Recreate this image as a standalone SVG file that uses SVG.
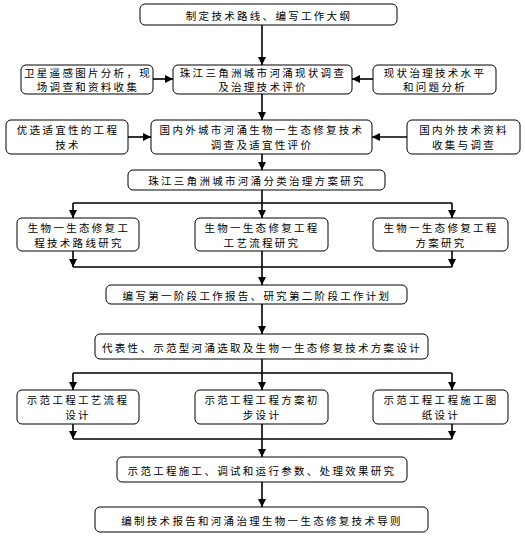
<svg xmlns="http://www.w3.org/2000/svg" width="525" height="536" viewBox="0 0 525 536">
<defs>
<marker id="ah" viewBox="0 0 8 8" refX="8" refY="4" markerWidth="8" markerHeight="8" markerUnits="userSpaceOnUse" orient="auto">
<path d="M0,0 L8,4 L0,8 z" fill="#000"/>
</marker>
<style>
.b{fill:#fff;stroke:#000;stroke-width:1}
.t{font-family:"Noto Sans CJK SC","Noto Sans CJK JP",sans-serif;font-size:10.5px;letter-spacing:2.3px;text-anchor:middle;dominant-baseline:central;fill:#000}
.c{fill:none;stroke:#000;stroke-width:1.6}
.a{marker-end:url(#ah)}
</style>
</defs>
<rect width="525" height="536" fill="#fff"/>
<g id="connectors">
<line class="c a" x1="262" y1="25" x2="262" y2="65"/>
<line class="c a" x1="153" y1="79" x2="173" y2="79"/>
<line class="c a" x1="373" y1="79" x2="352" y2="79"/>
<line class="c a" x1="262" y1="94" x2="262" y2="120"/>
<line class="c a" x1="128" y1="137" x2="151" y2="137"/>
<line class="c a" x1="407" y1="137" x2="372" y2="137"/>
<line class="c a" x1="262" y1="154" x2="262" y2="170"/>
<line class="c" x1="262" y1="190" x2="262" y2="203"/>
<line class="c" x1="73" y1="203" x2="452" y2="203"/>
<line class="c a" x1="73" y1="203" x2="73" y2="218"/>
<line class="c a" x1="262" y1="203" x2="262" y2="218"/>
<line class="c a" x1="452" y1="203" x2="452" y2="218"/>
<line class="c a" x1="73" y1="251" x2="73" y2="267"/>
<line class="c a" x1="452" y1="251" x2="452" y2="267"/>
<line class="c" x1="73" y1="267" x2="452" y2="267"/>
<line class="c a" x1="262" y1="251" x2="262" y2="285"/>
<line class="c a" x1="262" y1="304" x2="262" y2="334"/>
<line class="c" x1="262" y1="359" x2="262" y2="373"/>
<line class="c" x1="73" y1="373" x2="452" y2="373"/>
<line class="c a" x1="73" y1="373" x2="73" y2="390"/>
<line class="c a" x1="262" y1="373" x2="262" y2="390"/>
<line class="c a" x1="452" y1="373" x2="452" y2="390"/>
<line class="c a" x1="73" y1="424" x2="73" y2="439"/>
<line class="c a" x1="452" y1="424" x2="452" y2="439"/>
<line class="c" x1="73" y1="439" x2="452" y2="439"/>
<line class="c a" x1="262" y1="424" x2="262" y2="457"/>
<line class="c a" x1="262" y1="482" x2="262" y2="507"/>
</g>
<g id="n1"><rect class="b" x="140" y="4" width="257" height="21" rx="5"/><text class="t" x="269" y="15">制定技术路线、编写工作大纲</text></g>
<g id="n2l"><rect class="b" x="21" y="65" width="132" height="29" rx="5"/><text class="t" x="88" y="72.5">卫星遥感图片分析，现</text><text class="t" x="88" y="86.5">场调查和资料收集</text></g>
<g id="n2"><rect class="b" x="173" y="65" width="179" height="29" rx="5"/><text class="t" x="263" y="72.5">珠江三角洲城市河涌现状调查</text><text class="t" x="263" y="86.5">及治理技术评价</text></g>
<g id="n2r"><rect class="b" x="373" y="65" width="123" height="29" rx="5"/><text class="t" x="435" y="72.5">现状治理技术水平</text><text class="t" x="435" y="86.5">和问题分析</text></g>
<g id="n3l"><rect class="b" x="6" y="120" width="122" height="34" rx="5"/><text class="t" x="68" y="129.5">优选适宜性的工程</text><text class="t" x="68" y="144.5">技术</text></g>
<g id="n3"><rect class="b" x="151" y="120" width="221" height="34" rx="5"/><text class="t" x="262" y="129.5">国内外城市河涌生物一生态修复技术</text><text class="t" x="262" y="144.5">调查及适宜性评价</text></g>
<g id="n3r"><rect class="b" x="407" y="120" width="113" height="34" rx="5"/><text class="t" x="464" y="129.5">国内外技术资料</text><text class="t" x="464" y="144.5">收集与调查</text></g>
<g id="n4"><rect class="b" x="128" y="170" width="257" height="20" rx="5"/><text class="t" x="257" y="180">珠江三角洲城市河涌分类治理方案研究</text></g>
<g id="n5l"><rect class="b" x="17" y="218" width="122" height="33" rx="5"/><text class="t" x="79" y="227.5">生物一生态修复工</text><text class="t" x="79" y="242">程技术路线研究</text></g>
<g id="n5m"><rect class="b" x="195" y="218" width="133" height="33" rx="5"/><text class="t" x="262" y="227.5">生物一生态修复工程</text><text class="t" x="262" y="242">工艺流程研究</text></g>
<g id="n5r"><rect class="b" x="373" y="218" width="135" height="33" rx="5"/><text class="t" x="441" y="227.5">生物一生态修复工程</text><text class="t" x="441" y="242">方案研究</text></g>
<g id="n6"><rect class="b" x="106" y="285" width="301" height="19" rx="5"/><text class="t" x="257" y="295">编写第一阶段工作报告、研究第二阶段工作计划</text></g>
<g id="n7"><rect class="b" x="95" y="334" width="333" height="25" rx="5"/><text class="t" x="262" y="347">代表性、示范型河涌选取及生物一生态修复技术方案设计</text></g>
<g id="n8l"><rect class="b" x="17" y="390" width="122" height="34" rx="5"/><text class="t" x="78" y="399.5">示范工程工艺流程</text><text class="t" x="78" y="414.5">设计</text></g>
<g id="n8m"><rect class="b" x="195" y="390" width="133" height="34" rx="5"/><text class="t" x="262" y="399.5">示范工程工程方案初</text><text class="t" x="262" y="414.5">步设计</text></g>
<g id="n8r"><rect class="b" x="373" y="390" width="135" height="34" rx="5"/><text class="t" x="441" y="399.5">示范工程工程施工图</text><text class="t" x="441" y="414.5">纸设计</text></g>
<g id="n9"><rect class="b" x="117" y="457" width="290" height="25" rx="5"/><text class="t" x="262" y="470">示范工程施工、调试和运行参数、处理效果研究</text></g>
<g id="n10"><rect class="b" x="95" y="507" width="333" height="25" rx="5"/><text class="t" x="262" y="520">编制技术报告和河涌治理生物一生态修复技术导则</text></g>
</svg>
